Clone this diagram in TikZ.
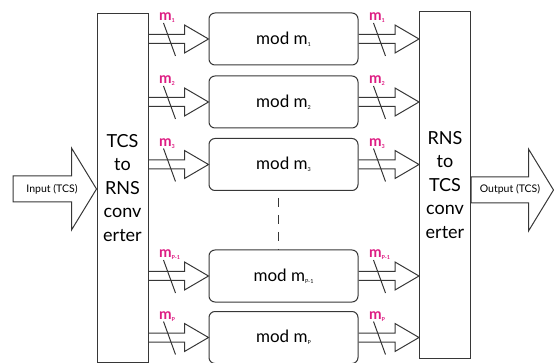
\documentclass[tikz,border=0pt]{standalone}
\usepackage{fontspec}
\setmainfont{Lato}
\usetikzlibrary{calc}
\definecolor{linegray}{RGB}{55,55,55}
\definecolor{modpink}{RGB}{221,28,130}
\newcommand{\sub}[1]{\raisebox{-0.2ex}{\fontsize{5.5}{6}\selectfont #1}}

\begin{document}
\begin{tikzpicture}
    [ x=1pt, y=-1pt
    , line width=1pt
    , conv/.style={draw=linegray, minimum width=51pt, align=center, inner sep=0pt
        , font=\fontsize{18}{23.5}\selectfont}
    , modbox/.style={draw=linegray, rounded corners=6pt, minimum width=149pt
        , minimum height=52pt, font=\fontsize{17}{18}\selectfont}
    , bus/.style={draw=linegray, line join=miter, to path={
        ($(\tikztostart)+(0,-4.5)$) -- ($(\tikztotarget)+(-24,-4.5)$)
        -- ($(\tikztotarget)+(-24,-14)$) -- (\tikztotarget)
        -- ($(\tikztotarget)+(-24,14)$) -- ($(\tikztotarget)+(-24,4.5)$)
        -- ($(\tikztostart)+(0,4.5)$)}}
    , big/.style={draw=linegray, line join=miter, to path={
        ($(\tikztostart)+(0,-13)$) -- ($(\tikztotarget)+(-25,-13)$)
        -- ($(\tikztotarget)+(-25,-41)$) -- (\tikztotarget)
        -- ($(\tikztotarget)+(-25,41)$) -- ($(\tikztotarget)+(-25,13)$)
        -- ($(\tikztostart)+(0,13)$) -- cycle}}
    , mlab/.style={text=modpink, font=\fontsize{15}{15}\selectfont\bfseries, inner sep=0pt
        , anchor=base west}
    , iolab/.style={font=\fontsize{10.5}{11}\selectfont, inner sep=0pt}
    ]
\useasboundingbox (0,0) rectangle (554,363);

\node[conv, minimum height=348pt] (tcs) at (122.5,188) {TCS\\to\\RNS\\conv\\erter};
\node[conv, minimum height=346pt] (rns) at (445,185) {RNS\\to\\TCS\\conv\\erter};

\foreach \n/\y/\s in {1/39/1, 2/102/2, 3/164.5/3, 4/276/P-1, 5/337.5/P}
{
  \node[modbox] (m\n) at (283.5,\y) {mod m\sub{\s}};
  % left bus
  \draw[bus] (tcs.east |- m\n.west) to (m\n.west);
  \draw[linegray] ($(tcs.east |- m\n.west)+(15,-16)$) -- ++(12,33);
  \node[mlab] (ml\n) at ($(tcs.east |- m\n.west)+(10,-18)$) {m\sub{\s}};
  % right bus
  \draw[bus] (m\n.east) to (rns.west |- m\n.east);
  \draw[linegray] ($(m\n.east)+(15,-16)$) -- ++(12,33);
  \node[mlab] (mr\n) at ($(m\n.east)+(10,-18)$) {m\sub{\s}};
}

\draw[linegray, dash pattern=on 9pt off 8pt] ($(m3.south)+(-5,7)$) -- ($(m4.north)+(-5,0)$);

\coordinate (in) at (13,189);
\coordinate (out) at (553.5,190);
\draw[big] (in) to (tcs.west |- in);
\draw[big] (rns.east |- out) to (out);
\node[iolab] (inlab) at (52,189) {Input (TCS)};
\node[iolab] (outlab) at (510,189) {Output (TCS)};
\end{tikzpicture}
\end{document}
